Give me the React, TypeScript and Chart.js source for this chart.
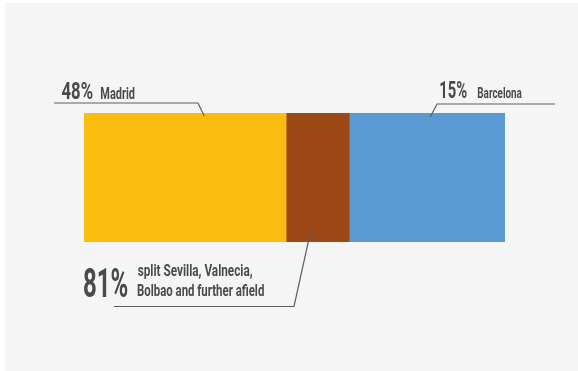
import React, { useEffect, useRef } from "react";
import { Chart, registerables } from "chart.js";

Chart.register(...registerables);

// ---- data ----
const categories = ["Spain"];
const segmentLabels = ["Madrid", "Sevilla, Valencia, Bilbao and further afield", "Barcelona"];
const segmentValues = [48, 15, 37];
const segmentColors = ["#FBBE10", "#9D4916", "#5B9BD5"];

const calloutPercents = ["48%", "81%", "15%"];
const calloutTexts = [["Madrid"], ["split Sevilla, Valnecia,", "Bolbao and further afield"], ["Barcelona"]];

const TEXT_COLOR = "#4a4a4a";
const LINE_COLOR = "#5e5e5e";
const FONT = "Roboto, 'Liberation Sans', sans-serif";

function drawFitted(ctx: CanvasRenderingContext2D, text: string, x: number, baseline: number, size: number, width: number) {
  ctx.save();
  ctx.font = `bold ${size}px ${FONT}`;
  ctx.textBaseline = "alphabetic";
  ctx.textAlign = "left";
  const m = ctx.measureText(text);
  const ink = m.actualBoundingBoxLeft + m.actualBoundingBoxRight;
  const s = ink > 0 ? width / ink : 1;
  ctx.translate(x, baseline);
  ctx.scale(s, 1);
  ctx.fillStyle = TEXT_COLOR;
  ctx.fillText(text, m.actualBoundingBoxLeft, 0);
  ctx.restore();
}

const backgroundPlugin = {
  id: "panelBg",
  beforeDraw(chart: any) {
    const { ctx, width, height } = chart;
    ctx.save();
    ctx.fillStyle = "#ffffff";
    ctx.fillRect(0, 0, width, height);
    ctx.fillStyle = "#f5f5f5";
    ctx.fillRect(5, 3, width - 5, height - 3);
    ctx.restore();
  },
};

const calloutPlugin = {
  id: "callouts",
  afterDatasetsDraw(chart: any) {
    const ctx: CanvasRenderingContext2D = chart.ctx;
    const els = [0, 1, 2].map((i) => chart.getDatasetMeta(i).data[0] as any);
    const seg = (el: any) => {
      const left = Math.min(el.base, el.x);
      const right = Math.max(el.base, el.x);
      return { left, right, top: el.y - el.height / 2, bottom: el.y + el.height / 2 };
    };
    const s0 = seg(els[0]);
    const s1 = seg(els[1]);
    const s2 = seg(els[2]);

    const anchors = [
      { x: s0.left + 0.595 * (s0.right - s0.left), y: s0.top + 3 },
      { x: s1.left + 0.39 * (s1.right - s1.left), y: s1.bottom - 11 },
      { x: s2.left + 0.52 * (s2.right - s2.left), y: s2.top + 4 },
    ];

    ctx.save();
    ctx.strokeStyle = LINE_COLOR;
    ctx.lineWidth = 1.2;
    // Madrid
    ctx.beginPath();
    ctx.moveTo(54, 103);
    ctx.lineTo(198, 103);
    ctx.lineTo(anchors[0].x, anchors[0].y);
    ctx.stroke();
    // middle
    ctx.beginPath();
    ctx.moveTo(114, 306.5);
    ctx.lineTo(294, 306.5);
    ctx.lineTo(anchors[1].x, anchors[1].y);
    ctx.stroke();
    // Barcelona
    ctx.beginPath();
    ctx.moveTo(555, 104);
    ctx.lineTo(437, 104);
    ctx.lineTo(anchors[2].x, anchors[2].y);
    ctx.stroke();
    ctx.restore();

    drawFitted(ctx, calloutPercents[0], 61.5, 99, 24, 31);
    drawFitted(ctx, calloutTexts[0][0], 101, 99, 16, 34);

    drawFitted(ctx, calloutPercents[2], 440, 97.7, 23.5, 27);
    drawFitted(ctx, calloutTexts[2][0], 477.3, 97.7, 15.5, 44.4);

    drawFitted(ctx, calloutPercents[1], 83.5, 296.7, 41, 44);
    drawFitted(ctx, calloutTexts[1][0], 137.7, 275.7, 16, 115);
    drawFitted(ctx, calloutTexts[1][1], 137.7, 295.7, 16, 126.6);
  },
};

export default function App() {
  const ref = useRef<HTMLCanvasElement | null>(null);
  useEffect(() => {
    if (!ref.current) return;
    const chart = new Chart(ref.current, {
      type: "bar",
      data: {
        labels: categories,
        datasets: segmentValues.map((v, i) => ({
          label: segmentLabels[i],
          data: [v],
          backgroundColor: segmentColors[i],
          borderWidth: 0,
          barPercentage: 1,
          categoryPercentage: 1,
        })),
      },
      options: {
        indexAxis: "y",
        responsive: false,
        animation: false,
        layout: { padding: { left: 84, right: 73, top: 113, bottom: 129 } },
        scales: {
          x: { stacked: true, min: 0, max: 100, display: false },
          y: { stacked: true, display: false },
        },
        plugins: {
          legend: { display: false },
          tooltip: { enabled: false },
        },
      },
      plugins: [backgroundPlugin, calloutPlugin],
    });
    return () => chart.destroy();
  }, []);
  return (
    <div style={{ position: "fixed", left: 0, top: 0, width: 578, height: 371 }}>
      <canvas ref={ref} width={578} height={371} style={{ display: "block" }} />
    </div>
  );
}
